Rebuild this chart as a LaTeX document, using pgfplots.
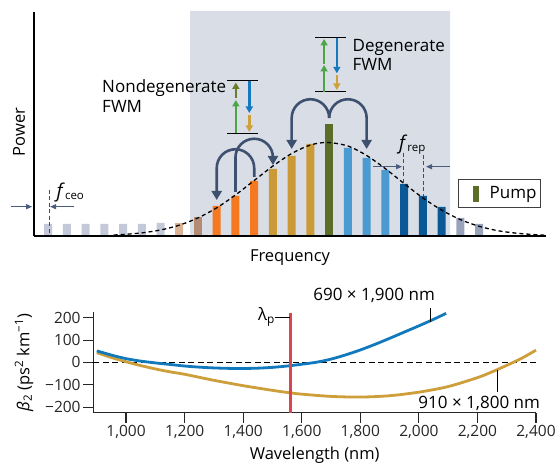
\documentclass[border=0pt]{standalone}
\usepackage{fontspec}
\setmainfont{Open Sans}
\usepackage{pgfplots}
\pgfplotsset{compat=1.18}
\usetikzlibrary{arrows.meta}
\definecolor{shade}{RGB}{217,221,230}
\definecolor{grayA}{RGB}{195,201,217}
\definecolor{grayB}{RGB}{152,163,187}
\definecolor{tanc}{RGB}{220,180,149}
\definecolor{brownc}{RGB}{179,139,116}
\definecolor{orangec}{RGB}{244,121,32}
\definecolor{goldc}{RGB}{201,154,54}
\definecolor{pumpc}{RGB}{91,110,39}
\definecolor{lblue}{RGB}{75,154,208}
\definecolor{dblue}{RGB}{10,88,150}
\definecolor{arcc}{RGB}{62,80,112}
\definecolor{fgreen}{RGB}{76,166,72}
\definecolor{folive}{RGB}{107,122,43}
\definecolor{fblue}{RGB}{22,120,190}
\definecolor{fgold}{RGB}{207,161,59}
\definecolor{farrow}{RGB}{74,93,126}
\definecolor{curveblue}{RGB}{18,121,189}
\definecolor{curvegold}{RGB}{205,158,58}
\definecolor{redline}{RGB}{218,68,78}
\newcommand\fs{\fontsize{17}{20}\selectfont}
\newcommand\fl{\fontsize{16.5}{20}\selectfont}
\newcommand\fss{\fontsize{15.5}{19}\selectfont}
\pgfplotsset{
  barst/.style={ybar, bar width=8pt, bar shift=0pt, draw=none, fill=#1, forget plot},
}
\tikzset{
  fwm/.style={line width=2.4pt, draw=#1, -{Triangle[length=6.5pt,width=7pt]}},
  arcst/.style={line width=2.6pt, draw=arcc, -{Triangle[length=9pt,width=10pt]}},
  level/.style={line width=1.4pt, black},
  farr/.style={line width=1.2pt, farrow, -{Triangle[length=6pt,width=5pt]}},
  fdash/.style={line width=1.2pt, black!70, dash pattern=on 4pt off 2.5pt},
}
\begin{document}
\begin{tikzpicture}
\useasboundingbox (0pt,0pt) rectangle (558pt,465pt);
% ---------------- top panel ----------------
\begin{axis}[
  at={(34pt,229pt)}, anchor=south west, scale only axis,
  width=512pt, height=224pt,
  xmin=-0.75, xmax=26.57, ymin=0, ymax=224,
  axis lines=left, axis line style={-, line width=1.3pt, black},
  xtick=\empty, ytick=\empty,
  clip=false, axis on top,
  xlabel={Frequency}, ylabel={Power},
  label style={font=\fl, inner sep=0pt},
  xlabel style={at={(axis description cs:0.5,-0.116)}, anchor=base},
  ylabel style={at={(axis description cs:-0.0176,0.464)}, anchor=base},
  legend style={at={(axis cs:21.88,57)}, anchor=north west, draw=black!75,
    line width=1.2pt, fill=white, font=\fs, inner xsep=14pt, inner ysep=6pt,
    nodes={inner sep=0pt}, column sep=0pt},
]
% shaded region
\addplot[fill=shade, draw=none, forget plot] coordinates {(7.58,0) (7.58,225) (21.45,225) (21.45,0)} \closedcycle;
% comb lines
\addplot[barst=grayA] coordinates {(0,12) (1,12) (2,12) (3,12) (4,12) (5,12) (6,13)};
\addplot[barst=tanc] coordinates {(7,13)};
\addplot[barst=brownc] coordinates {(8,19)};
\addplot[barst=orangec] coordinates {(9,30) (10,40) (11,55)};
\addplot[barst=goldc] coordinates {(12,67) (13,80) (14,92)};
\addplot[barst=lblue] coordinates {(16,88) (17,78) (18,66)};
\addplot[barst=dblue] coordinates {(19,52) (20,40) (21,29)};
\addplot[barst=grayB] coordinates {(22,18) (23,12)};
\addplot[ybar, bar width=8pt, bar shift=0pt, draw=none, fill=pumpc,
  legend image code/.code={\fill[pumpc] (0pt,-8pt) rectangle (6pt,8pt);}]
  coordinates {(15,112)};
\addlegendentry{\fs\hspace*{11pt}Pump\hspace*{-10pt}}
% envelope
\addplot[black, line width=1.3pt, dash pattern=on 4pt off 3pt, smooth, forget plot] coordinates {
(3.5,1.0) (4,1.5) (5,3.1) (6,6.0) (7,10.8) (8,18.1) (9,28.2) (10,41.0) (11,55.5) (12,70.0) (13,82.5) (14,91.0) (14.9,93.5) (16,90.0) (17,80.5) (18,67.3) (19,52.4) (20,38.1) (21,25.9) (22,16.4) (23,9.7) (24,5.3) (25,2.8) (26,1.3) (26.5,0.8)};
% nondegenerate FWM arcs
\draw[arcst] (axis cs:11,59) -- (axis cs:11,68) arc[start angle=0,end angle=180,radius=18.74pt] -- (axis cs:9,36);
\draw[arcst] (axis cs:10,44) -- (axis cs:10,78.5) arc[start angle=180,end angle=0,radius=18.74pt] -- (axis cs:12,71);
% degenerate FWM arcs
\draw[arcst] (axis cs:15,118) arc[start angle=0,end angle=180,radius=18.74pt] -- (axis cs:13,87);
\draw[arcst] (axis cs:15,118) arc[start angle=180,end angle=0,radius=18.74pt] -- (axis cs:17,87);
% nondegenerate energy diagram
\draw[level] (axis cs:9.55,155.3) -- (axis cs:11.22,155.3);
\draw[level] (axis cs:9.55,102.5) -- (axis cs:11.22,102.5);
\draw[fwm=fgreen] (axis cs:10.02,102.5) -- (axis cs:10.02,136);
\draw[fwm=folive] (axis cs:10.02,137.5) -- (axis cs:10.02,153.5);
\draw[fwm=fblue] (axis cs:10.74,155.3) -- (axis cs:10.74,123);
\draw[fwm=fgold] (axis cs:10.74,121) -- (axis cs:10.74,104);
% degenerate energy diagram
\draw[level] (axis cs:14.25,198.3) -- (axis cs:15.9,198.3);
\draw[level] (axis cs:14.25,144.3) -- (axis cs:15.9,144.3);
\draw[fwm=fgreen] (axis cs:14.73,144.3) -- (axis cs:14.73,171);
\draw[fwm=fgreen] (axis cs:14.73,172) -- (axis cs:14.73,197);
\draw[fwm=fblue] (axis cs:15.41,198.3) -- (axis cs:15.41,162.7);
\draw[fwm=fgold] (axis cs:15.41,161) -- (axis cs:15.41,146);
% texts
\node[font=\fs, anchor=base west, inner sep=0pt] at (axis cs:2.88,143.5) {Nondegenerate};
\node[font=\fs, anchor=base west, inner sep=0pt] at (axis cs:2.88,123.7) {FWM};
\node[font=\fs, anchor=base west, inner sep=0pt] at (axis cs:16.24,184.3) {Degenerate};
\node[font=\fs, anchor=base west, inner sep=0pt] at (axis cs:16.24,165.3) {FWM};
% f_ceo
\draw[fdash] (axis cs:0.07,46) -- (axis cs:0.07,0);
\draw[farr] (axis cs:-1.97,29.3) -- (axis cs:-0.85,29.3);
\draw[farr] (axis cs:1.39,29.3) -- (axis cs:0.11,29.3);
\node[anchor=base west, inner sep=0pt] at (axis cs:0.45,38) {\fontsize{19}{20}\selectfont\textit{f}\raisebox{-1.5pt}{\fontsize{11.5}{12}\selectfont ceo}};
% f_rep
\draw[fdash] (axis cs:18.96,83) -- (axis cs:18.96,36);
\draw[fdash] (axis cs:20.03,81) -- (axis cs:20.03,39);
\draw[farr] (axis cs:17.34,69.3) -- (axis cs:18.89,69.3);
\draw[farr] (axis cs:21.45,69.3) -- (axis cs:20.17,69.3);
\node[anchor=base west, inner sep=0pt] at (axis cs:18.72,86) {\fontsize{19}{20}\selectfont\textit{f}\raisebox{-1.5pt}{\fontsize{11.5}{12}\selectfont rep}};
\end{axis}
% ---------------- bottom panel ----------------
\begin{axis}[
  at={(93.3pt,52.3pt)}, anchor=south west, scale only axis,
  width=442.7pt, height=100.7pt,
  xmin=888, xmax=2400, ymin=-225, ymax=226,
  axis lines=left, axis line style={-, line width=1.3pt, black!85},
  tick align=outside, major tick length=10pt,
  tick style={line width=1.2pt, black!85},
  xtick={1000,1200,1400,1600,1800,2000,2200,2400},
  xticklabels={{1,000},{1,200},{1,400},{1,600},{1,800},{2,000},{2,200},{2,400}},
  ytick={-200,-100,0,100,200},
  yticklabels={−200,−100,0,100,200},
  tick label style={font=\fss, text=black!85},
  xticklabel style={inner sep=2pt},
  yticklabel style={inner sep=2.5pt},
  clip=false,
  xlabel={Wavelength (nm)},
  ylabel={{\itshape β}\textsubscript{2} (ps\textsuperscript{2} km\textsuperscript{−1})},
  label style={font=\fl, inner sep=0pt},
  xlabel style={at={(axis description cs:0.5,-0.4667)}, anchor=base},
  ylabel style={at={(axis description cs:-0.1446,0.5)}, anchor=base},
]
\addplot[black, line width=1pt, dash pattern=on 6pt off 3.5pt, forget plot] coordinates {(888,0) (2400,0)};
\addplot[curvegold, line width=2.8pt, smooth] coordinates {
(900,44) (950,22) (1000,3) (1050,-14) (1100,-29) (1150,-42) (1200,-53) (1300,-80) (1400,-104) (1500,-125) (1560,-136) (1600,-142) (1700,-152) (1800,-155) (1900,-149) (2000,-133) (2100,-108) (2200,-68) (2250,-42) (2300,-13) (2350,18) (2400,55)};
\addplot[curveblue, line width=2.8pt, smooth] coordinates {
(900,52) (950,33) (1000,17) (1050,6) (1100,-2) (1150,-9) (1200,-16) (1250,-21) (1300,-24.5) (1350,-26.5) (1400,-27) (1450,-25.5) (1500,-22) (1550,-16) (1600,-8) (1650,1) (1700,15) (1750,34) (1800,56) (1850,81) (1900,108) (1950,136) (2000,164) (2050,193) (2093,220)};
\addplot[redline, line width=3pt, forget plot] coordinates {(1560,-225) (1560,221)};
% annotations
\draw[black, line width=1pt] (axis cs:1510,200) -- (axis cs:1560,200);
\node[font=\fs, anchor=base east, inner sep=0pt] at (axis cs:1509,186.5) {λ\textsubscript{p}};
\draw[black, line width=1pt] (axis cs:2039,243) -- (axis cs:2039,181);
\node[font=\fs, anchor=base west, inner sep=0pt] at (axis cs:1639,276) {690 × 1,900 nm};
\draw[black, line width=1pt] (axis cs:2268,-35) -- (axis cs:2268,-132);
\node[font=\fs, anchor=base west, inner sep=0pt] at (axis cs:1998,-204) {910 × 1,800 nm};
\end{axis}
\end{tikzpicture}
\end{document}
